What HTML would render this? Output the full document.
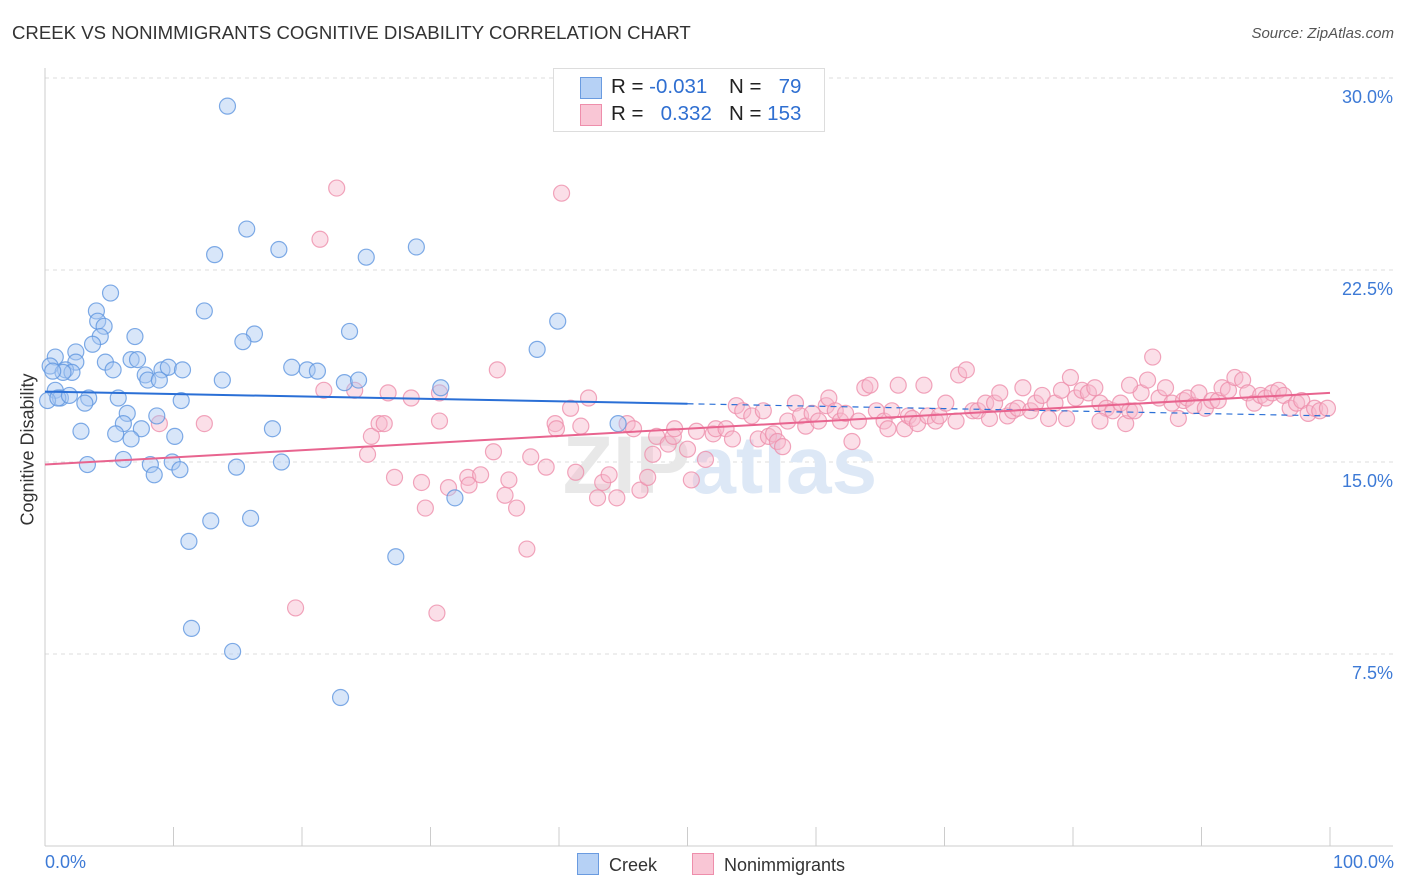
<!DOCTYPE html>
<html><head><meta charset="utf-8">
<style>
body{margin:0;background:#fff;font-family:"Liberation Sans",sans-serif;}
#wrap{position:relative;width:1406px;height:892px;overflow:hidden;}
.t{position:absolute;white-space:nowrap;}
</style></head>
<body>
<div id="wrap">
<div class="t" style="left:12px;top:22px;font-size:18.6px;color:#333;">CREEK VS NONIMMIGRANTS COGNITIVE DISABILITY CORRELATION CHART</div>
<div class="t" style="right:12px;top:25px;font-size:15px;color:#555;font-style:italic;">Source: ZipAtlas.com</div>
<svg id="svg" width="1406" height="892" style="position:absolute;left:0;top:0"></svg>
</div>
<script>
const yTicks=[7.5,15,22.5,30];
const yTickLabels=["7.5%","15.0%","22.5%","30.0%"];
const xTickVals=[0,10,20,30,40,50,60,70,80,90,100];
const blueX=[14.2,15.7,13.2,18.2,25.0,28.9,5.1,4.0,4.1,4.6,12.4,39.9,4.3,3.7,7.0,16.3,15.4,23.7,38.3,0.8,2.4,4.7,6.7,7.2,2.4,0.4,1.6,2.1,1.4,0.6,5.3,7.8,9.1,9.6,10.7,8.0,8.9,13.8,19.2,20.4,21.2,23.3,24.4,30.8,0.8,1.2,0.2,1.0,1.9,3.4,3.1,5.7,10.6,6.4,6.1,8.7,7.5,2.8,5.5,6.7,10.1,17.7,6.1,3.3,8.2,9.9,8.5,10.5,14.9,18.4,31.9,12.9,16.0,11.2,27.3,11.4,14.6,23.0,44.6];
const blueY=[28.9,24.1,23.1,23.3,23.0,23.4,21.6,20.9,20.5,20.3,20.9,20.5,19.9,19.6,19.9,20.0,19.7,20.1,19.4,19.1,19.3,18.9,19.0,19.0,18.9,18.75,18.6,18.5,18.5,18.55,18.6,18.4,18.6,18.7,18.6,18.2,18.2,18.2,18.7,18.6,18.55,18.1,18.2,17.9,17.8,17.5,17.4,17.5,17.6,17.5,17.3,17.5,17.4,16.9,16.5,16.8,16.3,16.2,16.1,15.9,16.0,16.3,15.1,14.9,14.9,15.0,14.5,14.7,14.8,15.0,13.6,12.7,12.8,11.9,11.3,8.5,7.6,5.8,16.5];
const pinkX=[22.7,40.2,21.4,19.5,30.5,37.5,35.2,12.4,8.9,21.7,24.1,26.7,28.5,30.7,25.4,26.0,26.4,25.1,27.2,29.3,29.6,30.7,31.4,32.9,33.0,33.9,34.9,35.8,36.1,36.7,37.8,39.0,39.7,39.8,40.9,41.3,42.3,41.7,43.4,43.0,43.9,44.5,45.3,45.8,46.3,46.9,47.3,47.6,48.5,48.9,49.0,50.0,50.3,50.7,51.4,52.0,52.2,53.0,53.5,53.8,54.3,55.0,55.5,55.9,56.3,56.7,57.0,57.4,57.8,58.4,58.8,59.2,59.7,60.2,60.8,61.0,61.5,61.9,62.3,62.8,63.3,63.8,64.2,64.7,65.3,65.6,65.9,66.4,66.9,67.2,67.5,67.9,68.4,68.7,69.3,69.6,70.1,70.9,71.1,71.7,72.2,72.6,73.2,73.5,73.9,74.3,74.9,75.3,75.7,76.1,76.7,77.1,77.6,78.1,78.6,79.1,79.5,79.8,80.2,80.7,81.2,81.7,82.1,82.6,83.1,83.7,84.1,84.4,84.8,85.3,85.8,86.2,86.7,87.2,87.7,88.2,88.6,88.9,89.4,89.8,90.3,90.8,91.3,91.6,92.1,92.6,93.2,93.6,94.1,94.6,95.0,95.5,96.0,96.4,96.9,97.4,97.8,98.3,98.8,99.2,99.8,84.4,82.1];
const pinkY=[25.7,25.5,23.7,9.3,9.1,11.6,18.6,16.5,16.5,17.8,17.8,17.7,17.5,17.7,16.0,16.5,16.5,15.3,14.4,14.2,13.2,16.6,14.0,14.4,14.1,14.5,15.4,13.7,14.3,13.2,15.2,14.8,16.5,16.3,17.1,14.6,17.5,16.4,14.2,13.6,14.5,13.6,16.5,16.3,13.9,14.4,15.3,16.0,15.7,16.0,16.3,15.5,14.3,16.2,15.1,16.1,16.3,16.3,15.9,17.2,17.0,16.8,15.9,17.0,16.0,16.1,15.8,15.6,16.6,17.3,16.8,16.4,16.9,16.6,17.2,17.5,17.0,16.6,16.9,15.8,16.6,17.9,18.0,17.0,16.6,16.3,17.0,18.0,16.3,16.8,16.7,16.5,18.0,16.8,16.6,16.8,17.3,16.6,18.4,18.6,17.0,17.0,17.3,16.7,17.3,17.7,16.8,17.0,17.1,17.9,17.0,17.3,17.6,16.7,17.3,17.8,16.7,18.3,17.5,17.8,17.7,17.9,17.3,17.1,17.0,17.3,16.5,17.0,17.0,17.7,18.2,19.1,17.5,17.9,17.3,16.7,17.4,17.5,17.2,17.7,17.1,17.4,17.4,17.9,17.8,18.3,18.2,17.7,17.3,17.6,17.5,17.7,17.8,17.6,17.1,17.3,17.4,16.9,17.1,17.0,17.1,18.0,16.6];
const blueTrend=[17.75,16.8];
const pinkTrend=[14.9,17.7];

const NS="http://www.w3.org/2000/svg";
const svg=document.getElementById('svg');
const X=v=>45+v*12.85;
const Y=v=>846-v*25.6;
function mk(tag,attrs,parent){const e=document.createElementNS(NS,tag);for(const k in attrs)e.setAttribute(k,attrs[k]);(parent||svg).appendChild(e);return e;}

yTicks.forEach((v,i)=>{
  const g=mk('line',{x1:45,x2:1393,y1:Y(v),y2:Y(v),stroke:'#ddd','stroke-dasharray':'4,4'});
  
  
  const t=mk('text',{x:1393,y:Y(v)+25,'text-anchor':'end','font-size':18,fill:'#3d7ad6','font-family':'Liberation Sans, sans-serif'});
  t.textContent=yTickLabels[i];
  
  
});
const ax=mk('line',{x1:45,x2:45,y1:68,y2:846,stroke:'#ccc'});


const bx=mk('line',{x1:45,x2:1393,y1:846,y2:846,stroke:'#ccc'});


xTickVals.forEach(v=>{
  const tk=mk('line',{x1:X(v),x2:X(v),y1:827,y2:846,stroke:'#ccc'});
  
  
});
const wm=mk('text',{x:720,y:493,'text-anchor':'middle','font-size':82,'font-weight':'bold','font-family':'Liberation Sans, sans-serif'});
wm.innerHTML='<tspan fill="#e8e8e8">ZIP</tspan><tspan fill="#dde8f6">atlas</tspan>';



function pts(xs,ys,fill,stroke,name){
  xs.forEach((x,i)=>{
    const c=mk('circle',{cx:X(x),cy:Y(ys[i]),r:8,fill:fill,'fill-opacity':0.45,stroke:stroke,'stroke-width':1.2,'stroke-opacity':0.8});
    
    
  });
}
pts(pinkX,pinkY,'#f7b7cb','#ee8eab','nonimmigrants-point');
pts(blueX,blueY,'#a8c8f2','#5f96e0','creek-point');

const tb=(v)=>blueTrend[0]+(blueTrend[1]-blueTrend[0])*v/100;
const l1=mk('line',{x1:X(0),y1:Y(tb(0)),x2:X(50),y2:Y(tb(50)),stroke:'#2a6fd6','stroke-width':2});


const l2=mk('line',{x1:X(50),y1:Y(tb(50)),x2:X(100),y2:Y(tb(100)),stroke:'#2a6fd6','stroke-width':1.2,'stroke-dasharray':'6,5'});


const l3=mk('line',{x1:X(0),y1:Y(pinkTrend[0]),x2:X(100),y2:Y(pinkTrend[1]),stroke:'#e8648f','stroke-width':2});


</script>
<div class="t" style="left:-42px;top:445px;font-size:18px;color:#333;transform:rotate(-90deg);width:140px;text-align:center;">Cognitive Disability</div>
<div class="t" style="left:45px;top:852px;font-size:18px;color:#3d7ad6;">0.0%</div>
<div class="t" style="right:12px;top:852px;font-size:18px;color:#3d7ad6;">100.0%</div>
<div style="position:absolute;left:553px;top:68px;width:270px;height:62px;border:1px solid #ddd;background:#fff;font-size:20.5px;color:#222;">
  <div style="position:absolute;left:26px;top:8px;width:20px;height:20px;background:#b6d1f5;border:1px solid #6a9be0;"></div>
  <div class="t" style="left:57px;top:6px;">R = <span style="color:#2f6fd1">-0.031</span></div>
  <div class="t" style="left:175px;top:6px;">N = <span style="color:#2f6fd1">&nbsp;&nbsp;79</span></div>
  <div style="position:absolute;left:26px;top:35px;width:20px;height:20px;background:#f9c6d5;border:1px solid #ee8eab;"></div>
  <div class="t" style="left:57px;top:33px;">R = <span style="color:#2f6fd1">&nbsp;&nbsp;0.332</span></div>
  <div class="t" style="left:175px;top:33px;">N = <span style="color:#2f6fd1">153</span></div>
</div>
<div style="position:absolute;left:577px;top:853px;font-size:18px;color:#333;">
  <span style="display:inline-block;width:20px;height:20px;background:#b6d1f5;border:1px solid #6a9be0;vertical-align:-4px;"></span>&nbsp; Creek</div>
<div style="position:absolute;left:692px;top:853px;font-size:18px;color:#333;">
  <span style="display:inline-block;width:20px;height:20px;background:#f9c6d5;border:1px solid #ee8eab;vertical-align:-4px;"></span>&nbsp; Nonimmigrants</div>
</body></html>
